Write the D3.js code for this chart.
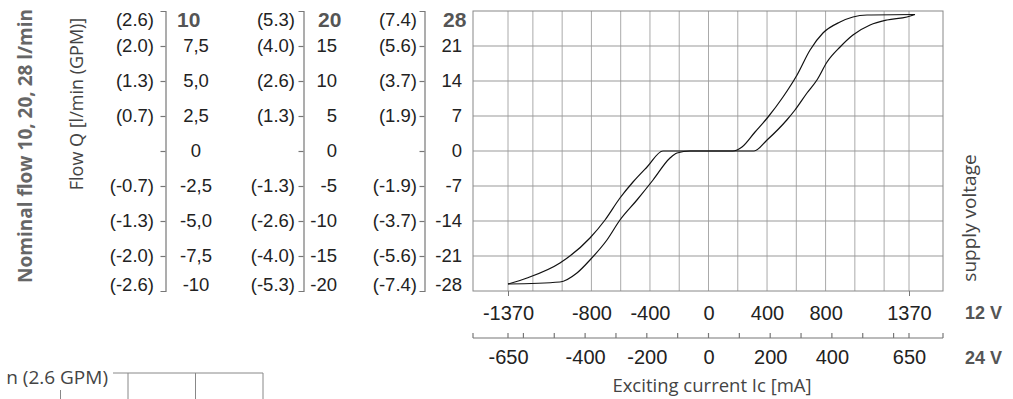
<!DOCTYPE html>
<html>
<head>
<meta charset="utf-8">
<script src="https://cdn.jsdelivr.net/npm/d3@7"></script>
<style>
  body { margin: 0; background: #fff; }
  .num { font-family: "Liberation Sans", Arial, sans-serif; fill: #222; }
  .hum { font-family: "Open Sans", "Noto Sans", sans-serif; fill: #444; }
</style>
</head>
<body>
<div class="chart"></div>
<script>
var svgWidth = 1013;
var svgHeight = 399;

// flow scales: l/min values, printed labels and GPM in brackets
var flow10 = [10, 7.5, 5, 2.5, 0, -2.5, -5, -7.5, -10];
var flow10Labels = ["10", "7,5", "5,0", "2,5", "0", "-2,5", "-5,0", "-7,5", "-10"];
var gpm10 = ["(2.6)", "(2.0)", "(1.3)", "(0.7)", "", "(-0.7)", "(-1.3)", "(-2.0)", "(-2.6)"];

var flow20 = [20, 15, 10, 5, 0, -5, -10, -15, -20];
var flow20Labels = ["20", "15", "10", "5", "0", "-5", "-10", "-15", "-20"];
var gpm20 = ["(5.3)", "(4.0)", "(2.6)", "(1.3)", "", "(-1.3)", "(-2.6)", "(-4.0)", "(-5.3)"];

var flow28 = [28, 21, 14, 7, 0, -7, -14, -21, -28];
var flow28Labels = ["28", "21", "14", "7", "0", "-7", "-14", "-21", "-28"];
var gpm28 = ["(7.4)", "(5.6)", "(3.7)", "(1.9)", "", "(-1.9)", "(-3.7)", "(-5.6)", "(-7.4)"];

// exciting current axes (mA)
var ticks12V = [-1370, -800, -400, 0, 400, 800, 1370];
var ticks24V = [-650, -400, -200, 0, 200, 400, 650];
var minor24V = [-650, -600, -500, -400, -300, -200, -100, 0, 100, 200, 300, 400, 500, 600, 650];
var gridX = [-1370, -1200, -1000, -800, -600, -400, -200, 0, 200, 400, 600, 800, 1000, 1200, 1370];
var gridY = [-21, -14, -7, 0, 7, 14, 21];

// hysteresis curves, flow (l/min, 28 scale) vs current (mA, 12 V)
var curveA = [[-1370, -26.6], [-1240, -25.4], [-1015, -22.4], [-810, -17.4], [-707, -13.8],
  [-605, -9.4], [-516, -6.2], [-420, -3.2], [-311, 0], [167, 0], [229, 0.8], [318, 3.8],
  [407, 6.8], [509, 10.8], [605, 15.2], [694, 20.2], [782, 23.6], [899, 25.8], [987, 26.8],
  [1083, 27.2], [1411, 27.3]];
var curveB = [[-1370, -26.6], [-1015, -26.2], [-899, -24.4], [-810, -21.8], [-694, -17.8],
  [-605, -13.8], [-489, -9.8], [-379, -5.8], [-263, -1.4], [-215, -0.4], [-126, 0], [311, 0],
  [400, 2.2], [535, 6.2], [591, 8.2], [673, 11.6], [741, 14.2], [810, 17.8], [899, 20.8],
  [987, 23.2], [1104, 25.2], [1220, 26.2], [1356, 26.8], [1411, 27.3]];

// piece of the next chart showing at the bottom edge
var nextCols = [-1, 0, 1, 2];

var svg = d3.select(".chart").append("svg")
  .attr("width", svgWidth)
  .attr("height", svgHeight);

var plot = { left: 473, right: 943, top: 11, bottom: 291 };

var x12 = d3.scaleLinear().domain([-1370, 1370]).range([508, 909]);
var x24 = d3.scaleLinear().domain([-650, 650]).range([508, 909]);
var y = d3.scaleLinear().domain([-28, 28]).range([plot.bottom, plot.top]);

// grid
var grid = svg.append("g");
grid.selectAll(".gx").data(gridX).enter().append("line")
  .attr("x1", d => x12(d)).attr("x2", d => x12(d))
  .attr("y1", plot.top).attr("y2", plot.bottom)
  .attr("stroke", "#aaa").attr("stroke-width", 1);
grid.selectAll(".gy").data(gridY).enter().append("line")
  .attr("x1", plot.left).attr("x2", plot.right)
  .attr("y1", d => y(d)).attr("y2", d => y(d))
  .attr("stroke", "#999").attr("stroke-width", 1);
grid.append("rect")
  .attr("x", plot.left).attr("y", plot.top)
  .attr("width", plot.right - plot.left).attr("height", plot.bottom - plot.top)
  .attr("fill", "none").attr("stroke", "#888").attr("stroke-width", 1);

// curves
var line = d3.line()
  .x(d => x12(d[0]))
  .y(d => y(d[1]))
  .curve(d3.curveMonotoneX);
[curveA, curveB].forEach(function(c) {
  svg.append("path").datum(c)
    .attr("d", line)
    .attr("fill", "none")
    .attr("stroke", "#111")
    .attr("stroke-width", 1.2);
});

// left flow axes
var columns = [
  { max: 10, vals: flow10, labels: flow10Labels, gpm: gpm10, ax: 165.5, gx: 154, lx: 196, anchor: "middle", tx: 177 },
  { max: 20, vals: flow20, labels: flow20Labels, gpm: gpm20, ax: 303.5, gx: 295, lx: 337, anchor: "end", tx: 318 },
  { max: 28, vals: flow28, labels: flow28Labels, gpm: gpm28, ax: 424.5, gx: 417, lx: 462, anchor: "end", tx: 443 }
];

columns.forEach(function(col) {
  var yc = d3.scaleLinear().domain([-col.max, col.max]).range([plot.bottom, plot.top]);
  var inner = col.vals.slice(1, -1);
  var g = svg.append("g").attr("transform", `translate(${col.ax},0)`);
  g.call(d3.axisLeft(yc).tickValues(inner).tickSize(5).tickFormat(""));
  g.selectAll("path, line").attr("stroke", "#777").attr("stroke-width", 1.2);

  col.vals.forEach(function(v, i) {
    var last = i === col.vals.length - 1;
    var yy = i === 0 ? yc(v) + 9 : last ? yc(v) - 6 : yc(v);
    svg.append("text").attr("class", "num")
      .attr("x", col.gx).attr("y", yy).attr("dy", "0.35em")
      .attr("text-anchor", "end")
      .style("font-size", "18.5px")
      .text(col.gpm[i]);
    var t = svg.append("text").attr("class", "num")
      .attr("y", yy).attr("dy", "0.35em")
      .style("font-size", "18.5px")
      .text(col.labels[i]);
    if (i === 0) {
      t.attr("x", col.tx).attr("text-anchor", "start")
        .style("font-weight", "bold").style("font-size", "21px").style("fill", "#555");
    } else {
      t.attr("x", col.lx).attr("text-anchor", col.anchor);
    }
  });
});

// 12 V current axis (labels, end ticks only)
var ax12 = svg.append("g").attr("transform", `translate(0,${plot.bottom})`);
ax12.call(d3.axisBottom(x12).tickValues(ticks12V).tickSize(0).tickPadding(15)
  .tickFormat(d => String(d)));
ax12.select(".domain").remove();
ax12.selectAll(".tick text").attr("class", "num").style("font-size", "20px");
ax12.selectAll(".tick").filter(d => Math.abs(d) === 1370).select("line")
  .attr("y2", 5).attr("stroke", "#777");

// 24 V current axis
var ax24 = svg.append("g").attr("transform", `translate(0,338)`);
ax24.call(d3.axisBottom(x24).tickValues(ticks24V).tickSize(0).tickPadding(12)
  .tickFormat(d => String(d)));
ax24.select(".domain").remove();
ax24.selectAll(".tick text").attr("class", "num").style("font-size", "20px");
ax24.append("line").attr("x1", plot.left).attr("x2", plot.right)
  .attr("stroke", "#777").attr("stroke-width", 1.2);
ax24.selectAll(".minor").data(minor24V.map(x24).concat([plot.left, plot.right])).enter()
  .append("line")
  .attr("x1", d => d).attr("x2", d => d)
  .attr("y1", -5).attr("y2", 0)
  .attr("stroke", "#777").attr("stroke-width", 1.2);

// voltage labels
svg.append("text").attr("class", "num")
  .attr("x", 965).attr("y", 313).attr("dy", "0.35em")
  .style("font-weight", "bold").style("font-size", "18px").style("fill", "#555")
  .text("12 V");
svg.append("text").attr("class", "num")
  .attr("x", 965).attr("y", 358).attr("dy", "0.35em")
  .style("font-weight", "bold").style("font-size", "18px").style("fill", "#555")
  .text("24 V");

// titles
svg.append("text").attr("class", "hum")
  .attr("x", 712).attr("y", 392)
  .attr("text-anchor", "middle")
  .style("font-size", "18.5px")
  .text("Exciting current Ic [mA]");

svg.append("text").attr("class", "hum")
  .attr("transform", "translate(976,218) rotate(-90)")
  .attr("text-anchor", "middle")
  .style("font-size", "19px")
  .text("supply voltage");

svg.append("text").attr("class", "hum")
  .attr("transform", "translate(83,104) rotate(-90)")
  .attr("text-anchor", "middle")
  .style("font-size", "18px")
  .text("Flow Q [l/min (GPM)]");

svg.append("text").attr("class", "hum")
  .attr("transform", "translate(32,146) rotate(-90)")
  .attr("text-anchor", "middle")
  .style("font-size", "19px")
  .style("font-weight", "bold")
  .style("fill", "#666")
  .text("Nominal flow 10, 20, 28 l/min");

// top of the next chart
var xn = d3.scaleLinear().domain([0, 2]).range([128, 263]);
svg.append("text").attr("class", "hum")
  .attr("x", 108).attr("y", 384)
  .attr("text-anchor", "end")
  .style("font-size", "19px")
  .text("n (2.6 GPM)");
svg.append("line")
  .attr("x1", 113).attr("x2", xn(2)).attr("y1", 373).attr("y2", 373)
  .attr("stroke", "#888");
svg.selectAll(".ncol").data(nextCols).enter().append("line")
  .attr("x1", d => xn(d)).attr("x2", d => xn(d))
  .attr("y1", d => d < 0 ? 390 : 373).attr("y2", svgHeight)
  .attr("stroke", "#888");
</script>
</body>
</html>
